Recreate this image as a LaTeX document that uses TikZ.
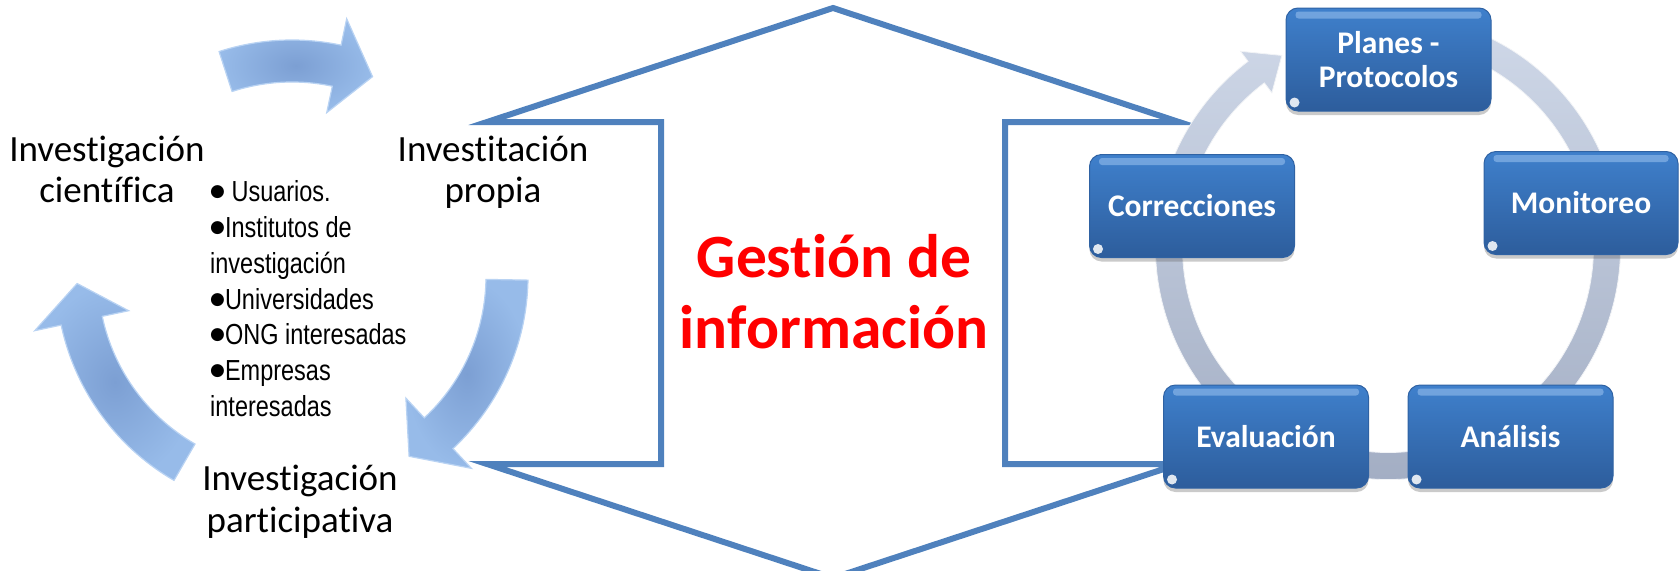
\documentclass[tikz,border=0pt]{standalone}
\usepackage{fontspec}
\setmainfont{Carlito}[Ligatures={NoCommon,NoContextual,NoRare}]
\newfontfamily\narrowfont[FakeStretch=0.81]{Liberation Sans}
\newfontfamily\symfont{DejaVu Sans}
\usetikzlibrary{shadows}
\definecolor{hexline}{HTML}{4F81BD}
\definecolor{boxtop}{HTML}{3F80CC}
\definecolor{boxbot}{HTML}{2D5D9C}
\definecolor{boxedge}{HTML}{2F62A3}
\definecolor{boxhl}{HTML}{9CC3F0}
\definecolor{ringtop}{HTML}{CFD8E8}
\definecolor{ringbot}{HTML}{A1ACC2}
\definecolor{arrowin}{HTML}{7C9FD3}
\definecolor{arrowout}{HTML}{97BBE9}
\definecolor{arrowedge}{HTML}{B9D3F3}
\definecolor{titlered}{HTML}{FF0000}
\newcommand\listbul{\raisebox{5pt}{\symfont\fontsize{17}{17}\selectfont ●}}
\begin{document}
\begin{tikzpicture}[x=1pt,y=-1pt,
  hexshape/.style={draw=hexline, line width=6pt, line join=miter},
  cyclab/.style={font=\fontsize{37}{40}\selectfont, anchor=base, inner sep=0pt},
  bulletline/.style={font=\narrowfont\fontsize{29}{36}\selectfont, anchor=base west, inner sep=0pt},
  titletext/.style={font=\bfseries\fontsize{61.5}{70}\selectfont, text=titlered, anchor=base, inner sep=0pt},
  stepblock/.style={rounded corners=12pt, minimum height=103pt, minimum width=205pt,
    top color=boxtop, bottom color=boxbot, draw=boxedge, line width=1pt, text=white,
    font=\bfseries\fontsize{31.5}{34}\selectfont, inner sep=0pt,
    drop shadow={shadow xshift=0pt, shadow yshift=-4pt, opacity=0.35, fill=black!60}},
  onel/.style={text height=21pt, text depth=0pt},
  curvedarrow/.style={inner color=arrowin, outer color=arrowout, draw=arrowedge, line width=1.2pt, line join=miter},
  ringarrow/.style={top color=ringtop, bottom color=ringbot, draw=white!85!ringbot, line width=0.8pt, line join=miter}
]
\useasboundingbox (0,0) rectangle (1680,570);
\clip (0,0) rectangle (1680,570);

% central double-notched hexagon
\draw[hexshape] (833,8) -- (487,122) -- (661,122) -- (661,464) -- (487,464)
  -- (833,578) -- (1179,464) -- (1005,464) -- (1005,122) -- (1179,122) -- cycle;

% left cycle arrows
\begin{scope}[shift={(292,276)}]
  \shadedraw[curvedarrow] (-108:236) arc[start angle=-108, end angle=-78, radius=236]
    -- (-78:263) -- (-68:215) -- (-78:167) -- (-78:194)
    arc[start angle=-78, end angle=-108, radius=194] -- cycle;
  \shadedraw[curvedarrow] (1:236) arc[start angle=1, end angle=47, radius=236]
    -- (47:263) -- (57:215) -- (47:167) -- (47:194)
    arc[start angle=47, end angle=1, radius=194] -- cycle;
  \shadedraw[curvedarrow] (-240:236) arc[start angle=-240, end angle=-192, radius=236]
    -- (-192:263) -- (-182:215) -- (-192:167) -- (-192:194)
    arc[start angle=-192, end angle=-240, radius=194] -- cycle;
\end{scope}

% cycle labels
\node[cyclab] (cient1) at (107,161) {Investigación};
\node[cyclab] (cient2) at (107,202) {científica};
\node[cyclab] (prop1) at (493,161) {Investitación};
\node[cyclab] (prop2) at (493,202) {propia};
\node[cyclab] (part1) at (300,490) {Investigación};
\node[cyclab] (part2) at (300,532) {participativa};

% bullet list
\node[bulletline] (b1) at (210,201.7) {\listbul\ Usuarios.};
\node[bulletline] (b2) at (210,237.5) {\listbul Institutos de};
\node[bulletline] (b3) at (210,273.3) {investigación};
\node[bulletline] (b4) at (210,309.1) {\listbul Universidades};
\node[bulletline] (b5) at (210,344.9) {\listbul ONG interesadas};
\node[bulletline] (b6) at (210,380.7) {\listbul Empresas};
\node[bulletline] (b7) at (210,416.5) {interesadas};

% title
\node[titletext] (t1) at (834,277) {Gestión de};
\node[titletext] (t2) at (834,348) {información};

% continuous cycle ring
\begin{scope}[shift={(1388,247)}]
  \shadedraw[ringarrow] (-78:232.5) arc[start angle=-78, end angle=233, radius=232.5]
    -- (233:245) -- (241:219) -- (233:193) -- (233:205.5)
    arc[start angle=233, end angle=-78, radius=205.5] -- cycle;
\end{scope}

% blocks
\node[stepblock, align=center] (pl) at (1388.5,59.5) {Planes -\\Protocolos};
\node[stepblock, onel] (co) at (1192,206) {Correcciones};
\node[stepblock, onel, minimum width=194pt] (mo) at (1581,203) {Monitoreo};
\node[stepblock, onel] (ev) at (1266,436.5) {Evaluación};
\node[stepblock, onel] (an) at (1510.5,436.5) {Análisis};

\foreach \b in {pl,co,mo,ev,an}{
  \fill[boxhl, opacity=0.55, rounded corners=3pt] ([xshift=10pt,yshift=-4pt]\b.north west) rectangle ([xshift=-10pt,yshift=-11pt]\b.north east);
  \fill[white, opacity=0.85] ([xshift=9pt,yshift=9pt]\b.south west) circle[radius=5pt];
}
\end{tikzpicture}
\end{document}
